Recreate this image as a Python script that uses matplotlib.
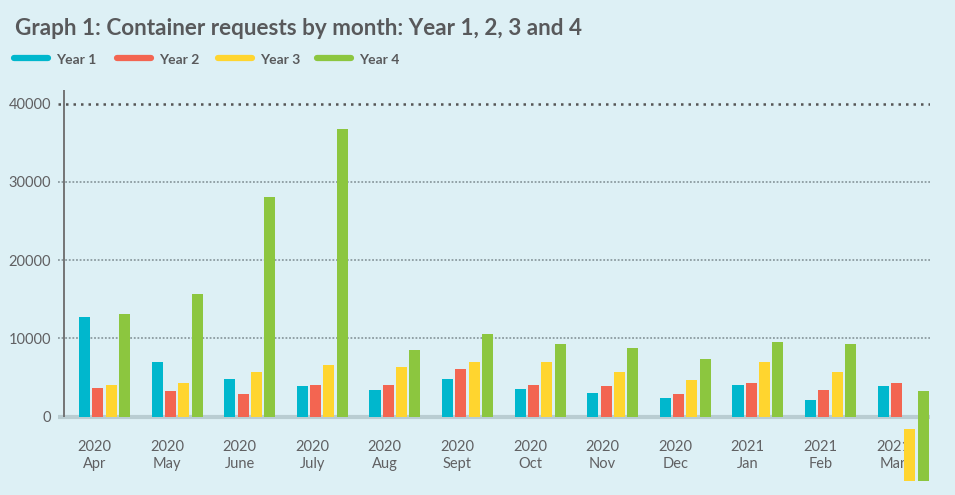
import matplotlib

matplotlib.use("Agg")

import matplotlib.pyplot as plt
from matplotlib.lines import Line2D
import numpy as np

plt.rcParams["font.family"] = ["Lato", "DejaVu Sans"]

# chart data
years = ["2020", "2020", "2020", "2020", "2020", "2020", "2020", "2020", "2020", "2021", "2021", "2021"]
months = ["Apr", "May", "June", "July", "Aug", "Sept", "Oct", "Nov", "Dec", "Jan", "Feb", "Mar"]
series_names = ["Year 1", "Year 2", "Year 3", "Year 4"]
year1 = [12700, 6950, 4800, 3900, 3400, 4800, 3550, 3000, 2400, 4050, 2150, 3900]
year2 = [3700, 3250, 2900, 4050, 4050, 6100, 4050, 3900, 2900, 4300, 3400, 4300]
year3 = [4050, 4300, 5650, 6600, 6350, 7000, 7000, 5700, 4700, 7000, 5700, -1550]
year4 = [13100, 15700, 28100, 36700, 8500, 10550, 9300, 8800, 7400, 9550, 9300, 3300]
# last month's Year 3 / Year 4 bars run off below the axis in the original
mar_overflow = -8200
yticks = [0, 10000, 20000, 30000, 40000]

colors = ["#00b7cd", "#f36551", "#ffd52f", "#8cc63f"]
bg = "#ddf0f5"
grey_text = "#606062"

W, H = 955, 495
PX = 7.83 / 1000  # pixels per unit on the y axis
ZERO_PX = 416.7


def py(pixel_y):
    return -(pixel_y - ZERO_PX) / PX


fig = plt.figure(figsize=(W / 100, H / 100), dpi=100, facecolor=bg)
ax = fig.add_axes([58 / W, 1 - 481 / H, (930 - 58) / W, (481 - 90) / H], facecolor=bg)
ax.set_xlim(-0.6405, 11.37)
ax.set_ylim(py(481), py(90))
for s in ax.spines.values():
    s.set_visible(False)

series = [year1, year2, year3, year4]
x = np.arange(len(months))
step = 0.183
width = 0.152
for k, (vals, c) in enumerate(zip(series, colors)):
    vals = np.array(vals, dtype=float)
    bottoms = np.zeros(len(vals))
    heights = vals.copy()
    if k >= 2:
        # overflowing bars of the final month
        bottoms[-1] = mar_overflow
        heights[-1] = vals[-1] - mar_overflow
    ax.bar(x + (k - 1.5) * step, heights, width, bottom=bottoms, color=c, zorder=3, linewidth=0)

# gridlines
for v in yticks[1:-1]:
    ax.axhline(v, color="#8c9ba0", lw=1.3, ls=(0, (1, 1)), zorder=1)
ax.axhline(yticks[-1], color="#555555", lw=1.8, ls=(0, (1, 2)), zorder=1)
ax.axhline(0, color="#b9cdd2", lw=3, zorder=2)
ax.plot([-0.558, -0.558], [0, py(90)], color="#6b6b6b", lw=1.3, zorder=2, solid_capstyle="butt")

ax.set_yticks(yticks)
ax.set_yticklabels([str(v) for v in yticks])
ax.tick_params(axis="y", length=0, pad=5, labelsize=10.5, labelcolor=grey_text)
ax.set_xticks([])

for i, (yr, mo) in enumerate(zip(years, months)):
    ax.text(i - 0.14, py(450.7), yr, ha="center", va="baseline", fontsize=10.5, color=grey_text, zorder=0.5)
    ax.text(i - 0.14, py(467.7), mo, ha="center", va="baseline", fontsize=10.5, color=grey_text, zorder=0.5)

fig.text(15 / W, 1 - 35 / H, "Graph 1: Container requests by month: Year 1, 2, 3 and 4",
         fontsize=16.2, fontweight="bold", color="#58595b", va="baseline")

legend_x = [14, 117, 218, 317]
for lx, name, c in zip(legend_x, series_names, colors):
    fig.add_artist(Line2D([lx / W, (lx + 34) / W], [1 - 58 / H, 1 - 58 / H], color=c, lw=4.5,
                          solid_capstyle="round", transform=fig.transFigure))
    fig.text((lx + 42) / W, 1 - 63.5 / H, name, fontsize=10, fontweight="bold", color="#58595b", va="baseline")

fig.savefig("out.png", dpi=100, facecolor=bg)
plt.close(fig)
